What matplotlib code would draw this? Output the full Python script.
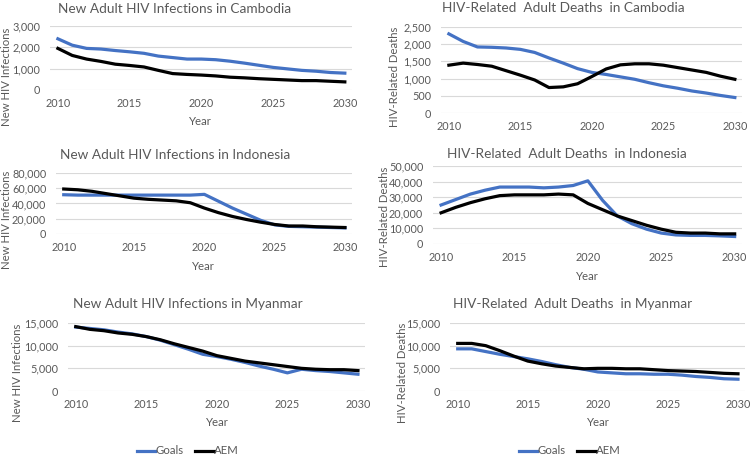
import numpy as np
import matplotlib
matplotlib.use('Agg')
import matplotlib.pyplot as plt

plt.rcParams['font.family'] = ['Lato', 'DejaVu Sans']

years = list(range(2010, 2031))

# Cambodia - new infections
kh_inf_goals = [2400, 2100, 1950, 1920, 1850, 1790, 1720, 1590, 1520, 1450, 1450,
                1420, 1350, 1260, 1160, 1060, 990, 920, 880, 820, 790]
kh_inf_aem = [1950, 1620, 1450, 1340, 1210, 1150, 1080, 920, 770, 730, 700,
              660, 600, 570, 530, 500, 470, 440, 440, 410, 380]
# Cambodia - deaths
kh_dth_goals = [2300, 2080, 1920, 1910, 1890, 1850, 1760, 1600, 1450, 1290, 1180,
                1120, 1050, 980, 880, 790, 720, 640, 580, 510, 450]
kh_dth_aem = [1390, 1450, 1410, 1360, 1230, 1100, 960, 740, 760, 850, 1060,
              1280, 1400, 1430, 1430, 1390, 1320, 1250, 1180, 1070, 980]
# Indonesia - new infections
id_inf_goals = [51500, 51000, 51000, 51000, 51000, 51000, 51000, 51000, 51000, 51000, 52000,
                43000, 34000, 26000, 18000, 12000, 10000, 9500, 9000, 8500, 8000]
id_inf_aem = [59000, 58000, 56000, 53000, 50000, 47000, 45500, 44500, 43500, 41000, 34000,
              28000, 23000, 19000, 15500, 12500, 10500, 10500, 9500, 9000, 8500]
# Indonesia - deaths
id_dth_goals = [25000, 28500, 32000, 34500, 36500, 36500, 36500, 36000, 36500, 37500, 40500,
                28000, 18000, 13000, 9500, 7000, 5800, 5500, 5500, 5200, 4800]
id_dth_aem = [20000, 23500, 26500, 29000, 31000, 31500, 31500, 31500, 32000, 31500, 26000,
              22000, 18000, 15000, 12000, 9500, 7500, 7000, 7000, 6500, 6500]
# Myanmar - new infections
mm_inf_goals = [14100, 13800, 13500, 13000, 12600, 12000, 11200, 10200, 9200, 8100, 7600,
                7000, 6300, 5500, 4800, 4000, 4800, 4500, 4300, 4000, 3700]
mm_inf_aem = [14200, 13600, 13300, 12800, 12500, 12000, 11300, 10400, 9600, 8800, 7800,
              7200, 6600, 6200, 5800, 5400, 5000, 4800, 4700, 4700, 4500]
# Myanmar - deaths
mm_dth_goals = [9300, 9300, 8700, 8100, 7600, 7100, 6500, 5800, 5200, 4800, 4200,
                4000, 3800, 3800, 3700, 3700, 3500, 3200, 3000, 2700, 2600]
mm_dth_aem = [10500, 10500, 10000, 8900, 7700, 6600, 6000, 5500, 5200, 4900, 5000,
              5000, 4900, 4900, 4700, 4500, 4400, 4300, 4100, 3900, 3800]

W, H = 750, 455
BLUE = '#4472C4'
GREY = '#595959'
TICK_FS = 7.8

fig = plt.figure(figsize=(W / 100, H / 100), dpi=100)


def px_axes(l, t, r, b):
    return fig.add_axes([l / W, 1 - b / H, (r - l) / W, (b - t) / H])


def fig_text(x, y, s, **kw):
    fig.text(x / W, 1 - y / H, s, color=GREY, ha='center', va='center', **kw)


def panel(box, goals, aem, ymax, step, title, title_xy, ylab, ylab_xy, year_xy):
    ax = px_axes(*box)
    ax.plot(years, goals, color=BLUE, lw=2.3, label='Goals')
    ax.plot(years, aem, color='black', lw=2.3, label='AEM')
    ax.set_xlim(2009.45, 2030.5)
    ax.set_ylim(0, ymax)
    ax.set_xticks(range(2010, 2031, 5))
    ticks = np.arange(0, ymax + 1, step)
    ax.set_yticks(ticks)
    ax.set_yticklabels([f'{int(v):,}' for v in ticks])
    ax.grid(axis='y', color='#d9d9d9', lw=0.8)
    ax.set_axisbelow(True)
    for s in ax.spines.values():
        s.set_visible(False)
    ax.tick_params(length=0, labelsize=TICK_FS, colors=GREY)
    ax.tick_params(axis='y', pad=7)
    ax.tick_params(axis='x', pad=6)
    fig_text(*title_xy, title, fontsize=9.8)
    fig_text(*ylab_xy, ylab, fontsize=8.2, rotation=90)
    if year_xy:
        fig_text(*year_xy, 'Year', fontsize=8.2)
    return ax


panel((50, 26, 352, 90), kh_inf_goals, kh_inf_aem, 3000, 1000,
      'New Adult HIV Infections in Cambodia', (175, 9),
      'New HIV Infections', (7, 77), (200, 122))
panel((441, 27, 742, 113), kh_dth_goals, kh_dth_aem, 2500, 500,
      'HIV-Related  Adult Deaths  in Cambodia', (563, 8),
      'HIV-Related Deaths', (395, 77), None)
panel((56, 173, 352, 234), id_inf_goals, id_inf_aem, 80000, 20000,
      'New Adult HIV Infections in Indonesia', (175, 155),
      'New HIV Infections', (7, 220), (203, 267))
panel((433, 166, 742, 244), id_dth_goals, id_dth_aem, 50000, 10000,
      'HIV-Related  Adult Deaths  in Indonesia', (567, 154),
      'HIV-Related Deaths', (384, 217), (587, 276))
ax5 = panel((68, 323, 365, 391), mm_inf_goals, mm_inf_aem, 15000, 5000,
            'New Adult HIV Infections in Myanmar', (188, 304),
            'New HIV Infections', (18, 373), (217, 423))
ax6 = panel((450, 323, 745, 391), mm_dth_goals, mm_dth_aem, 15000, 5000,
            'HIV-Related  Adult Deaths  in Myanmar', (573, 304),
            'HIV-Related Deaths', (402, 373), (598, 423))

for ax, cx in ((ax5, 188), (ax6, 570)):
    ax.legend(loc='center', bbox_to_anchor=(cx / W, 1 - 451 / H),
              bbox_transform=fig.transFigure, ncol=2, frameon=False,
              fontsize=8.2, handlelength=1.6, handletextpad=0.05,
              columnspacing=1.0, labelcolor=GREY)

fig.savefig('out.png', dpi=100)
